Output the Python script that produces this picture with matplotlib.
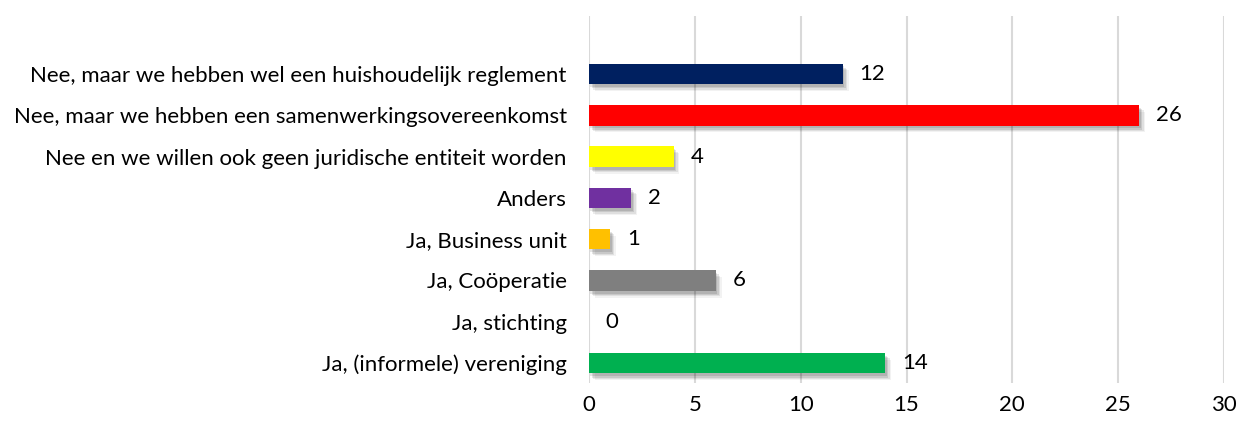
import matplotlib.pyplot as plt
import matplotlib.patheffects as pe

# categories from bottom to top
labels = ['Ja, (informele) vereniging', 'Ja, stichting', 'Ja, Coöperatie',
          'Ja, Business unit', 'Anders',
          'Nee en we willen ook geen juridische entiteit worden',
          'Nee, maar we hebben een samenwerkingsovereenkomst',
          'Nee, maar we hebben wel een huishoudelijk reglement']
values = [14, 0, 6, 1, 2, 4, 26, 12]
colors = ['#00b050', '#a5a5a5', '#7f7f7f', '#ffc000', '#7030a0',
          '#ffff00', '#ff0000', '#002060']

plt.rcParams['font.family'] = ['Lato', 'DejaVu Sans']
fs = 16

fig = plt.figure(figsize=(12.39, 4.21), dpi=100)
ax = fig.add_axes([0.4754, 0.0903, 0.5125, 0.8717])

# soft drop shadow, stacked to fake a blur
shadow = []
for dx, dy, a in [(1, -2, 0.10), (2, -3, 0.10), (3, -4, 0.08), (4, -5, 0.05)]:
    shadow.append(pe.SimplePatchShadow(offset=(dx, dy), shadow_rgbFace='black', alpha=a))
shadow.append(pe.Normal())

ypos = range(len(labels))
bars = ax.barh(ypos, values, height=0.5, color=colors, zorder=3)
for b in bars:
    b.set_path_effects(shadow)

for y, v in zip(ypos, values):
    ax.annotate(str(v), (v, y), xytext=(12, 0), textcoords='offset points',
                va='center', ha='left', fontsize=fs, color='#000000')

ax.set_xlim(0, 30)
ax.set_ylim(-0.48, 8.4)
ax.set_xticks(range(0, 31, 5))
ax.set_yticks(list(ypos))
ax.set_yticklabels(labels)
ax.tick_params(axis='both', length=0, labelsize=fs)
ax.tick_params(axis='x', pad=9)
ax.tick_params(axis='y', pad=16)
ax.grid(axis='x', color='#d9d9d9', linewidth=1.5, zorder=0)
for s in ax.spines.values():
    s.set_visible(False)

fig.savefig('out.png', dpi=100)
